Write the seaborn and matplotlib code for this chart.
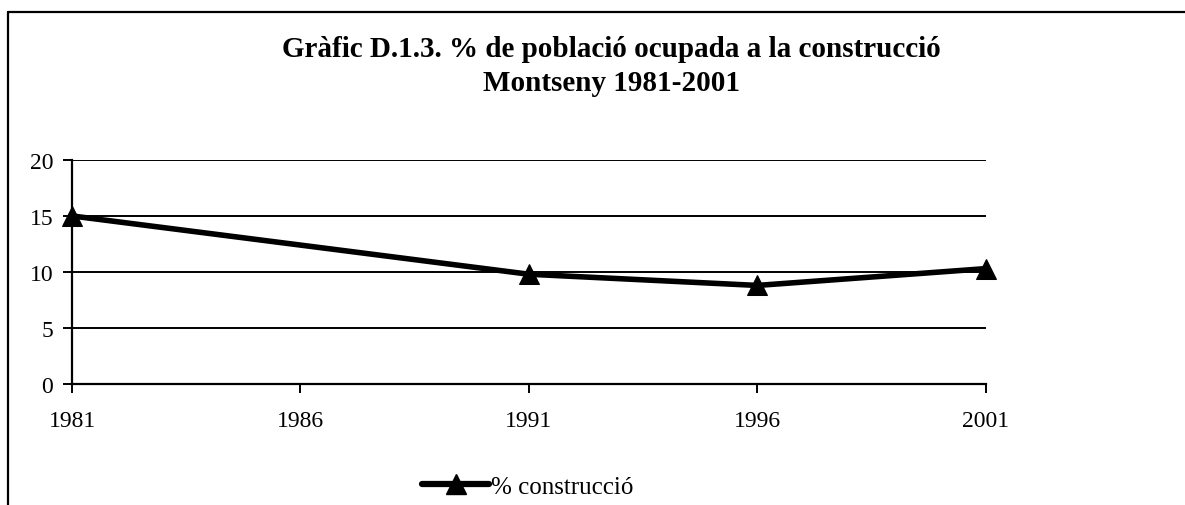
import pandas as pd
import matplotlib.pyplot as plt
import seaborn as sns
from matplotlib.lines import Line2D

years = [1981, 1991, 1996, 2001]
construccio = [15.0, 9.8, 8.8, 10.3]
tick_years = [1981, 1986, 1991, 1996, 2001]
y_ticks = [0, 5, 10, 15, 20]
series_name = '% construcció'

df = pd.DataFrame({'any': years, 'valor': construccio})

sns.set_style('white')
plt.rcParams['font.family'] = ['Liberation Serif', 'DejaVu Serif']
plt.rcParams['text.color'] = 'black'

fig = plt.figure(figsize=(11.85, 5.06), dpi=100)
ax = fig.add_axes([0.0608, 0.239, 0.771, 0.443])

sns.lineplot(data=df, x='any', y='valor', ax=ax, color='black', linewidth=4,
             marker='^', markersize=15, markeredgecolor='black', legend=False,
             clip_on=False, zorder=5)

ax.set_xlim(1981, 2001)
ax.set_ylim(0, 20)
ax.set_xticks(tick_years)
ax.set_yticks(y_ticks)
ax.set_xlabel('')
ax.set_ylabel('')
ax.yaxis.grid(True, color='black', linewidth=1.4)
ax.set_axisbelow(True)
for side in ['top', 'right']:
    ax.spines[side].set_visible(False)
for side in ['left', 'bottom']:
    ax.spines[side].set_color('black')
    ax.spines[side].set_linewidth(1.6)
ax.tick_params(axis='both', direction='out', length=6.5, width=1.4, colors='black',
               labelsize=17, bottom=True, left=True)
ax.tick_params(axis='y', pad=7)
ax.tick_params(axis='x', pad=12)

fig.suptitle('Gràfic D.1.3. % de població ocupada a la construcció\nMontseny 1981-2001',
             x=0.516, y=0.928, fontsize=21, fontweight='bold', linespacing=1.3,
             color='black')

handle = Line2D([], [], color='black', linewidth=4.5, marker='^', markersize=15,
                markevery=[1], markeredgecolor='black')
fig.legend([handle], [series_name], loc='center', bbox_to_anchor=(0.445, 0.036),
           frameon=False, fontsize=18, handlelength=2.7, handletextpad=0.05,
           labelcolor='black', borderpad=0)

# border of the chart area (left and top edges)
fig.add_artist(Line2D([0.0068, 0.0068], [0.0, 0.975], color='black', linewidth=1.6,
                      transform=fig.transFigure))
fig.add_artist(Line2D([0.0068, 1.0], [0.975, 0.975], color='black', linewidth=1.6,
                      transform=fig.transFigure))

fig.savefig('out.png', dpi=100)
